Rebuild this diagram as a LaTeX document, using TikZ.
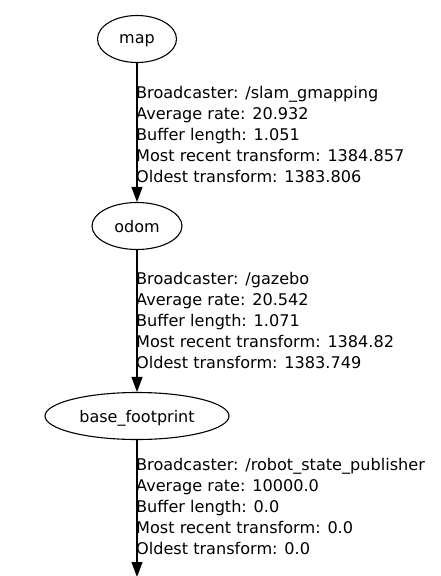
\documentclass[tikz,border=0pt]{standalone}
\usepackage{fontspec}
\setmainfont{DejaVu Sans}
\usetikzlibrary{shapes.geometric,arrows.meta}
\begin{document}
\begin{tikzpicture}[x=1pt,y=-1pt,
  tfnode/.style={ellipse,draw,line width=1.1pt,minimum height=47pt,inner sep=0pt,text depth=0pt,font=\fontsize{16}{21}\selectfont},
  tfedge/.style={draw,line width=1.1pt,-{Triangle[length=15pt,width=11pt]}},
  tflabel/.style={anchor=base west,align=left,inner sep=0pt,font=\fontsize{16.1}{21}\selectfont}]
\useasboundingbox (0,0) rectangle (440,576);
\node[tfnode,minimum width=79pt] (map) at (137,39) {map};
\node[tfnode,minimum width=90pt] (odom) at (137,226) {odom};
\node[tfnode,minimum width=184pt] (base) at (137,416) {base\_footprint};
\coordinate (next) at (137,577);
\draw[tfedge] (map) -- (odom);
\draw[tfedge] (odom) -- (base);
\draw[tfedge] (base) -- (next);
\node[tflabel] (l1) at (136,182) {Broadcaster: /slam\_gmapping\\Average rate: 20.932\\Buffer length: 1.051\\Most recent transform: 1384.857\\Oldest transform: 1383.806};
\node[tflabel] (l2) at (136,368) {Broadcaster: /gazebo\\Average rate: 20.542\\Buffer length: 1.071\\Most recent transform: 1384.82\\Oldest transform: 1383.749};
\node[tflabel] (l3) at (136,554) {Broadcaster: /robot\_state\_publisher\\Average rate: 10000.0\\Buffer length: 0.0\\Most recent transform: 0.0\\Oldest transform: 0.0};
\end{tikzpicture}
\end{document}
